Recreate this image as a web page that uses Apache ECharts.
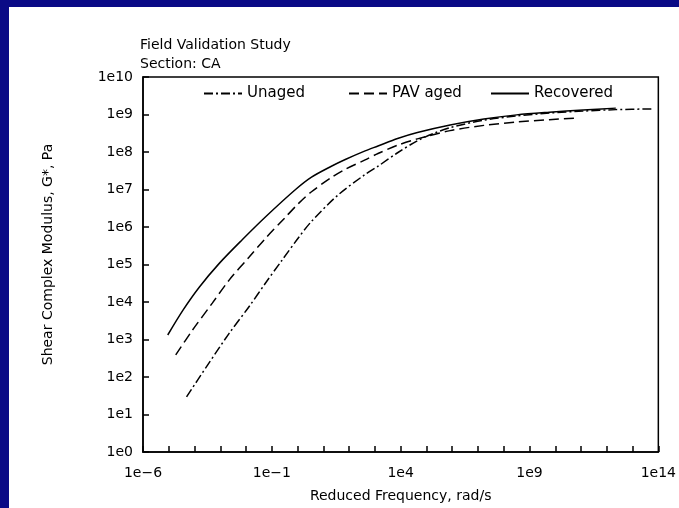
<!DOCTYPE html>
<html>
<head>
<meta charset="utf-8">
<script src="https://cdn.jsdelivr.net/npm/echarts@6/dist/echarts.min.js"></script>
<style>
  html, body { margin: 0; padding: 0; }
  body { width: 679px; height: 508px; background: #0a0a86; position: relative; overflow: hidden; }
  #chart { position: absolute; left: 9px; top: 7px; width: 670px; height: 501px; background: #ffffff; }
</style>
</head>
<body>
<div id="chart"></div>
<script>
// Values are log10 of the quantities (x: reduced frequency rad/s, y: G* Pa)
const unagedLogFreq = [-4.31, -3.54, -2.65, -1.88, -1.23, -0.62, 0.04, 0.54, 1.58, 2.62, 3.12, 3.88, 4.65, 5.3, 5.92, 7.23, 8.5, 9.77, 11.08, 12.35, 13.77];
const unagedLogG    = [1.47, 2.27, 3.17, 3.88, 4.52, 5.10, 5.72, 6.15, 6.86, 7.40, 7.62, 7.98, 8.30, 8.50, 8.65, 8.85, 8.96, 9.04, 9.09, 9.13, 9.15];

const pavLogFreq = [-4.73, -4.08, -3.31, -2.65, -1.88, -1.23, -0.5, 0.04, 0.54, 1.31, 1.85, 2.62, 3.12, 3.88, 4.65, 5.92, 7.23, 8.5, 9.77, 10.88];
const pavLogG    = [2.59, 3.25, 3.97, 4.59, 5.20, 5.71, 6.24, 6.63, 6.94, 7.32, 7.54, 7.79, 7.96, 8.18, 8.35, 8.57, 8.71, 8.80, 8.86, 8.91];

const recoveredLogFreq = [-5.04, -4.46, -3.81, -3.04, -2.15, -1.23, -0.08, 0.54, 1.31, 1.85, 2.62, 3.12, 3.88, 4.65, 5.92, 7.23, 8.5, 9.77, 11.08, 12.35];
const recoveredLogG    = [3.12, 3.77, 4.40, 5.03, 5.66, 6.28, 7.00, 7.33, 7.62, 7.80, 8.03, 8.16, 8.36, 8.52, 8.72, 8.88, 8.99, 9.06, 9.12, 9.17];

const seriesNames = ['Unaged', 'PAV aged', 'Recovered'];
const xLabelExponents = [-6, -1, 4, 9, 14];
const yLabelExponents = [0, 1, 2, 3, 4, 5, 6, 7, 8, 9, 10];

function pairs(xs, ys) { return xs.map((x, i) => [x, ys[i]]); }
function expLabel(v) { return '1e' + (v < 0 ? '\u2212' + (-v) : String(v)); }

const FONT = 'DejaVu Sans';
const chart = echarts.init(document.getElementById('chart'), null, { renderer: 'canvas' });

const legendCommon = {
  top: 74, itemWidth: 38, itemHeight: 14, itemGap: 0,
  itemStyle: { opacity: 0 },
  textStyle: { fontFamily: FONT, fontSize: 15, color: '#000' }
};

chart.setOption({
  animation: false,
  backgroundColor: '#ffffff',
  title: {
    text: 'Field Validation Study\nSection: CA',
    left: 126, top: 24,
    textStyle: { fontFamily: FONT, fontSize: 14, fontWeight: 'normal', color: '#000', lineHeight: 19 }
  },
  legend: [
    Object.assign({}, legendCommon, { data: [seriesNames[0]], left: 189 }),
    Object.assign({}, legendCommon, { data: [seriesNames[1]], left: 334 }),
    Object.assign({}, legendCommon, { data: [seriesNames[2]], left: 476 })
  ],
  grid: { left: 134, right: 16, top: 70, bottom: 56, show: true, borderColor: '#000', borderWidth: 1.5, backgroundColor: 'transparent' },
  xAxis: {
    type: 'value', min: -6, max: 14, interval: 1,
    name: 'Reduced Frequency, rad/s', nameLocation: 'middle', nameGap: 37,
    nameTextStyle: { fontFamily: FONT, fontSize: 14, color: '#000' },
    axisLine: { onZero: false, lineStyle: { color: '#000', width: 1.5 } },
    axisTick: { inside: true, length: 6, lineStyle: { color: '#000', width: 1.5 } },
    axisLabel: {
      fontFamily: FONT, fontSize: 14, color: '#000', margin: 14,
      formatter: v => xLabelExponents.indexOf(v) >= 0 ? expLabel(v) : ''
    },
    splitLine: { show: false }
  },
  yAxis: {
    type: 'value', min: 0, max: 10, interval: 1,
    name: 'Shear Complex Modulus, G*, Pa', nameLocation: 'middle', nameGap: 88, nameRotate: 90,
    nameTextStyle: { fontFamily: FONT, fontSize: 14, color: '#000', padding: [0, 0, 0, 20] },
    axisLine: { onZero: false, lineStyle: { color: '#000', width: 1.5 } },
    axisTick: { inside: true, length: 6, lineStyle: { color: '#000', width: 1.5 } },
    axisLabel: {
      fontFamily: FONT, fontSize: 14, color: '#000', margin: 10,
      formatter: v => yLabelExponents.indexOf(v) >= 0 ? expLabel(v) : ''
    },
    splitLine: { show: false }
  },
  series: [
    { name: seriesNames[0], type: 'line', data: pairs(unagedLogFreq, unagedLogG), showSymbol: false, symbol: 'none', smooth: 0.3,
      lineStyle: { color: '#000', width: 1.5, type: [9, 3, 2, 3] }, itemStyle: { color: '#000' } },
    { name: seriesNames[1], type: 'line', data: pairs(pavLogFreq, pavLogG), showSymbol: false, symbol: 'none', smooth: 0.3,
      lineStyle: { color: '#000', width: 1.5, type: [10, 5] }, itemStyle: { color: '#000' } },
    { name: seriesNames[2], type: 'line', data: pairs(recoveredLogFreq, recoveredLogG), showSymbol: false, symbol: 'none', smooth: 0.3,
      lineStyle: { color: '#000', width: 1.5, type: 'solid' }, itemStyle: { color: '#000' } }
  ]
});
</script>
</body>
</html>
